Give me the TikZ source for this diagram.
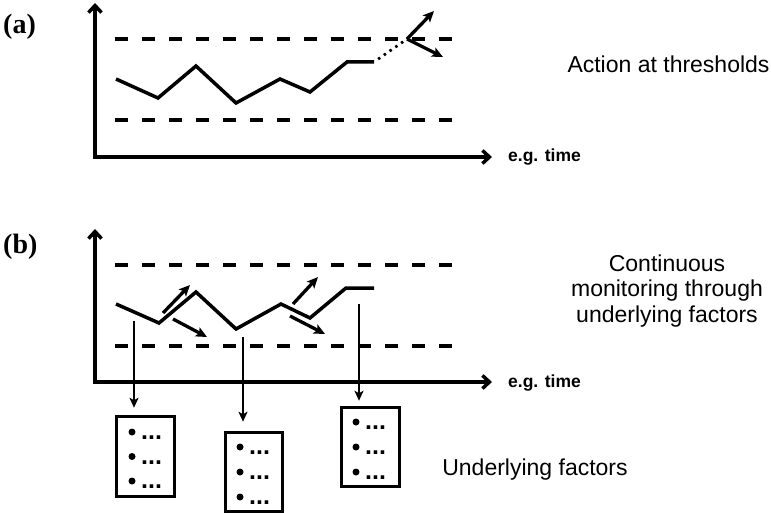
\documentclass[tikz,border=0pt]{standalone}
\usepackage{fontspec}
\setmainfont{Liberation Sans}
\newfontfamily\panelfont{Liberation Serif}
\usetikzlibrary{arrows.meta}
\tikzset{
  axisline/.style={line width=3.5, {Straight Barb[length=7,width=13]}-{Straight Barb[length=7,width=13]}},
  thr/.style={line width=3.7, dash pattern=on 13 off 14},
  series/.style={line width=3.5},
  dotline/.style={line width=2.7, dash pattern=on 2.5 off 4.5},
  smallarr/.style={line width=3.3, -{Stealth[length=11,width=10,inset=2.5]}},
  droparr/.style={line width=2.7, -{Stealth[length=10,width=9,inset=2.5]}},
  factbox/.style={draw, line width=3.5, inner sep=0, minimum width=58, minimum height=80},
  bul/.style={fill, circle, inner sep=0, minimum size=7},
  dots/.style={font=\bfseries\fontsize{25}{27}\selectfont, anchor=base west, inner sep=0},
  lbl/.style={font=\fontsize{23}{25.3}\selectfont, align=center},
  tlbl/.style={font=\bfseries\fontsize{17.5}{20}\selectfont, anchor=base west, inner sep=0},
  panel/.style={font=\panelfont\bfseries\fontsize{28}{30}\selectfont, anchor=base west, inner sep=0},
}
\begin{document}
\begin{tikzpicture}[x=1pt,y=-1pt]
\useasboundingbox (0,0) rectangle (771,513);

% ---------- panel (a) ----------
\node[panel] (pa) at (3,34) {(a)};
\coordinate (a-top) at (95,3);
\coordinate (a-org) at (95,157);
\coordinate (a-end) at (492,157);
\draw[axisline] (a-top) -- (a-org) -- (a-end);
\node[tlbl] (a-time) at (508,162) {e.g. time};

\coordinate (a-hi1) at (115,39);  \coordinate (a-hi2) at (452,39);
\coordinate (a-lo1) at (115,120); \coordinate (a-lo2) at (452,120);
\draw[thr] (a-hi1) -- (a-hi2);
\draw[thr] (a-lo1) -- (a-lo2);

\coordinate (a1) at (116,79);
\coordinate (a2) at (158,98);
\coordinate (a3) at (196,66);
\coordinate (a4) at (236,103);
\coordinate (a5) at (280,79);
\coordinate (a6) at (310,92);
\coordinate (a7) at (347,62);
\coordinate (a8) at (374,62);
\coordinate (ax) at (407,39);
\draw[series] (a1) -- (a2) -- (a3) -- (a4) -- (a5) -- (a6) -- (a7) -- (a8);
\draw[dotline, shorten <=5] (a8) -- (ax);
\coordinate (a-up) at (434,11);
\coordinate (a-dn) at (443,57);
\draw[smallarr] (ax) -- (a-up);
\draw[smallarr] (ax) -- (a-dn);

\node[lbl] (a-lab) at (668.5,64) {Action at thresholds};

% ---------- panel (b) ----------
\node[panel] (pb) at (3,254) {(b)};
\coordinate (b-top) at (95,229);
\coordinate (b-org) at (95,382);
\coordinate (b-end) at (492,382);
\draw[axisline] (b-top) -- (b-org) -- (b-end);
\node[tlbl] (b-time) at (508,387) {e.g. time};

\coordinate (b-hi1) at (115,265); \coordinate (b-hi2) at (452,265);
\coordinate (b-lo1) at (115,346); \coordinate (b-lo2) at (452,346);
\draw[thr] (b-hi1) -- (b-hi2);
\draw[thr] (b-lo1) -- (b-lo2);

\coordinate (b1) at (116,304);
\coordinate (b2) at (159,323);
\coordinate (b3) at (196,292);
\coordinate (b4) at (236,329);
\coordinate (b5) at (281,304);
\coordinate (b6) at (310,318);
\coordinate (b7) at (346,288);
\coordinate (b8) at (374,288);
\draw[series] (b1) -- (b2) -- (b3) -- (b4) -- (b5) -- (b6) -- (b7) -- (b8);

\coordinate (s1a) at (163,313); \coordinate (s1b) at (190,285);
\coordinate (s2a) at (173,319); \coordinate (s2b) at (207,337);
\coordinate (s3a) at (293,304); \coordinate (s3b) at (318,277);
\coordinate (s4a) at (290,316); \coordinate (s4b) at (325,334);
\draw[smallarr] (s1a) -- (s1b);
\draw[smallarr] (s2a) -- (s2b);
\draw[smallarr] (s3a) -- (s3b);
\draw[smallarr] (s4a) -- (s4b);

\node[lbl] (b-lab) at (667,291) {Continuous\\monitoring through\\underlying factors};

% ---------- factor boxes ----------
\node[factbox] (f1) at (145.5,456.5) {};
\node[factbox, minimum width=57, minimum height=79] (f2) at (254,472) {};
\node[factbox, minimum height=79] (f3) at (370.5,447) {};

\coordinate (d1) at (134,321);
\coordinate (d2) at (243,337);
\coordinate (d3) at (359,304);
\draw[droparr, shorten >=7] (d1) -- (d1 |- f1.north);
\draw[droparr, shorten >=9] (d2) -- (d2 |- f2.north);
\draw[droparr, shorten >=5] (d3) -- (d3 |- f3.north);

% bullets
\foreach \bx/\by/\nm in {132/432/p1,132/456.5/p2,132/481/p3,
                          240/447/q1,240/472/q2,240/497/q3,
                          356/422/r1,356/447/r2,356/472/r3}{
  \node[bul] (\nm b) at (\bx,\by) {};
  \node[dots] (\nm t) at (\bx+9,\by+7.5) {...};
}

\node[lbl, anchor=base] (f-lab) at (535,475) {Underlying factors};
\end{tikzpicture}
\end{document}
